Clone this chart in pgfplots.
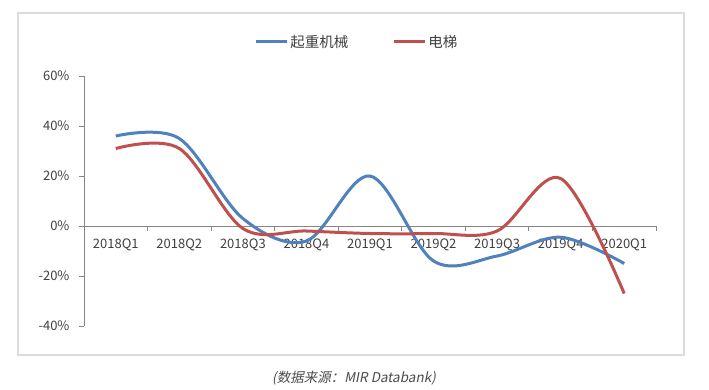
\documentclass[border=0pt]{standalone}
\usepackage{pgfplots}
\pgfplotsset{compat=1.18}
\usepackage{fontspec}
\setmainfont{Noto Sans CJK SC}
\newfontfamily\capfont[FakeSlant=0.2]{Noto Sans CJK SC}
\definecolor{sblue}{HTML}{4F81BD}
\definecolor{sred}{HTML}{C0504D}
\definecolor{axgray}{HTML}{868686}
\definecolor{txt}{HTML}{404040}
\begin{document}
\begin{tikzpicture}[x=1pt,y=1pt]
\useasboundingbox (0,0) rectangle (709,389);
\fill[white] (0,0) rectangle (709,389);
\draw[draw=black!14, line width=1.2pt] (18,34) rectangle (684,376);
\begin{axis}[
  at={(84pt,63pt)}, anchor=south west,
  scale only axis, width=572pt, height=250pt,
  xmin=-0.5, xmax=8.5, ymin=-40, ymax=60,
  axis x line*=middle, axis y line*=left,
  axis line style={axgray, line width=0.8pt},
  xtick={0,...,8},
  xticklabels={2018Q1,2018Q2,2018Q3,2018Q4,2019Q1,2019Q2,2019Q3,2019Q4,2020Q1},
  x tick style={draw=none},
  xticklabel style={font=\fontsize{13}{14}\selectfont, text=txt, yshift=-4pt},
  ytick={-40,-20,...,60},
  yticklabel={\pgfmathprintnumber{\tick}\%},
  /pgf/number format/assume math mode=true,
  yticklabel style={font=\fontsize{13}{14}\selectfont, text=txt, xshift=-6pt},
  y tick style={axgray, line width=0.8pt},
  tick align=outside, major tick length=5pt,
  clip=false,
  legend columns=2,
  legend style={at={(axis description cs:0.477,1.136)}, anchor=center, draw=none, fill=none,
    font=\fontsize{14.5}{16}\selectfont, text=txt,
    /tikz/every even column/.append style={column sep=42pt}},
  legend image code/.code={\draw[#1, line width=3pt] (0pt,0pt) -- (31pt,0pt);},
]
\draw[axgray, line width=0.8pt] (axis cs:-0.5,0) -- (axis cs:8.5,0);
\foreach \i in {0.5,1.5,...,8.5} {
  \edef\tmp{\noexpand\draw[axgray, line width=0.8pt] (axis cs:\i,0) -- ([yshift=-5pt]axis cs:\i,0);}
  \tmp
}
\addplot[sblue, line width=3pt, smooth, tension=0.55] coordinates {
(0,36) (1,35) (2,3) (3,-6) (4,20) (5,-14) (6,-12) (7,-4.5) (8,-15)};
\addlegendentry{起重机械}
\addplot[sred, line width=3pt, smooth, tension=0.55] coordinates {
(0,31) (1,31) (2,-1) (3,-2) (4,-3) (5,-3) (6,-2) (7,19) (8,-27)};
\addlegendentry{电梯}
\end{axis}
\node[font=\capfont\fontsize{13.5}{15}\selectfont, text=black!70] at (354,11) {(数据来源：MIR Databank)};
\end{tikzpicture}
\end{document}
